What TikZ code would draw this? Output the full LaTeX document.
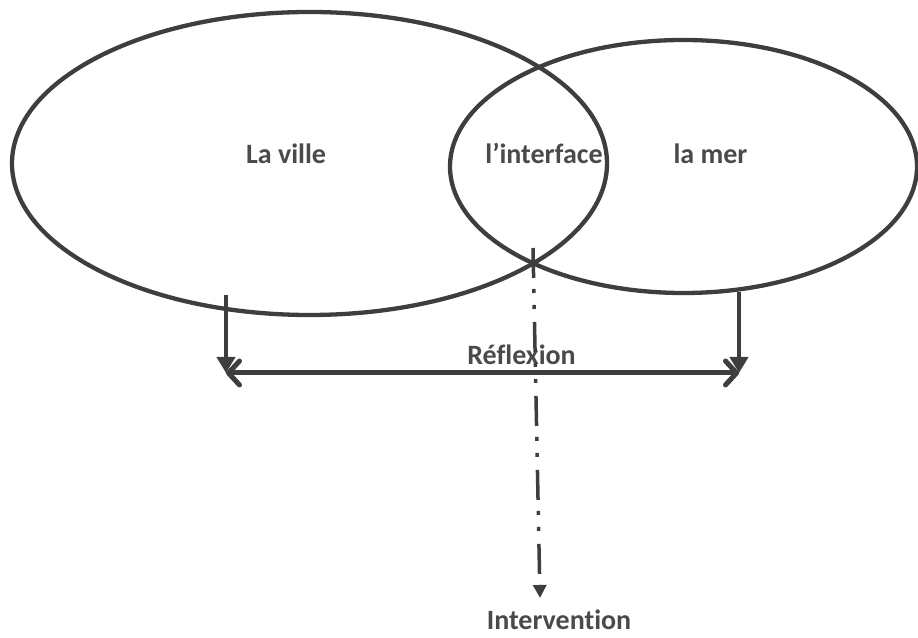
\documentclass[tikz,border=0pt]{standalone}
\usepackage{fontspec}
\setmainfont{Carlito}[Ligatures=NoCommon]
\usetikzlibrary{shapes.geometric,arrows.meta}
\definecolor{ink}{HTML}{3E3E3E}
\definecolor{txt}{HTML}{4A4A4A}
\tikzset{
  x=1pt,y=1pt,
  zone/.style={ellipse, draw=ink, line width=4.3pt, inner sep=0pt},
  lbl/.style={anchor=base, text=txt, font=\fontsize{28}{30}\selectfont\bfseries, inner sep=0pt},
  drop/.style={draw=ink, line width=4pt, -{Triangle[length=16pt,width=18pt]}},
  bothway/.style={draw=ink, line width=5pt, line cap=round,
     {Straight Barb[length=11pt,width=24pt,line cap=round,line join=round]}-{Straight Barb[length=11pt,width=24pt,line cap=round,line join=round]}},
  dashdot/.style={draw=ink, line width=3.5pt,
     dash pattern=on 30pt off 11pt on 4pt off 12pt on 4pt off 13pt,
     -{Triangle[length=13pt,width=13pt]}}
}
\begin{document}
\begin{tikzpicture}
\useasboundingbox (0,0) rectangle (918,637);
% ellipses
\node[zone, minimum width=595pt, minimum height=303pt] (ville) at (309.5,473.5) {};
\node[zone, minimum width=467pt, minimum height=253pt] (mer) at (683.5,470.5) {};
% labels
\node[lbl] (tville) at (286,473) {La ville};
\node[lbl] (tinter) at (544,473) {l’interface};
\node[lbl] (tmer) at (710.5,473) {la mer};
\node[lbl] (trefl) at (521.5,272) {Réflexion};
\node[lbl] (tinterv) at (559,7) {Intervention};
% coordinates
\coordinate (lt) at (226,342);
\coordinate (lb) at (226,264);
\coordinate (rt) at (739,345);
\coordinate (rb) at (739,264);
\coordinate (dt) at (533,389);
\coordinate (db) at (540,39);
% arrows
\draw[drop] (lt) -- (lb);
\draw[drop] (rt) -- (rb);
\draw[bothway] (lb) -- (rb);
\draw[dashdot] (dt) -- (db);
\end{tikzpicture}
\end{document}
